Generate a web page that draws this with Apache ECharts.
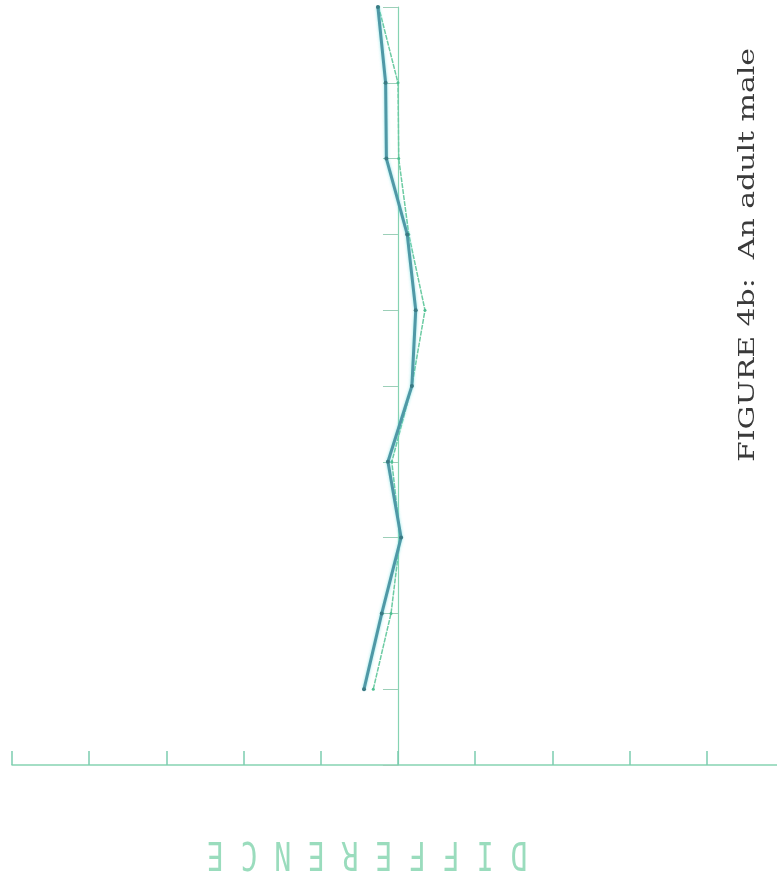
<!DOCTYPE html>
<html>
<head>
<meta charset="utf-8">
<script src="https://cdn.jsdelivr.net/npm/echarts@6/dist/echarts.min.js"></script>
<style>
html,body{margin:0;padding:0;background:#fff;}
#chart{width:777px;height:884px;}
</style>
</head>
<body>
<div id="chart"></div>
<script>
// Rows along the vertical axis (1 = bottom, 10 = top)
var rows = [1, 2, 3, 4, 5, 6, 7, 8, 9, 10];
// Difference values (horizontal axis units = tick spacing)
var darkSeries  = [-0.44, -0.21, 0.04, -0.13, 0.18, 0.23, 0.12, -0.15, -0.16, -0.26];
var lightSeries = [-0.32, -0.09, 0.03, -0.08, 0.18, 0.35, 0.14, 0.01, 0.0, -0.25];
var xTicks = [-5, -4, -3, -2, -1, 0, 1, 2, 3, 4];
var axisTitle = 'D I F F E R E N C E';
var caption = 'FIGURE 4b:  An adult male';

function pairs(vals) {
  return rows.map(function (r, i) { return [vals[i], r]; });
}

var axisColor = '#86d3b2';
var chart = echarts.init(document.getElementById('chart'));
chart.setOption({
  backgroundColor: '#ffffff',
  animation: false,
  grid: { left: 12, right: 0, top: 7, bottom: 119 },
  xAxis: {
    type: 'value',
    min: -5,
    max: 4.91,
    interval: 1,
    axisLine: { show: true, onZero: false, lineStyle: { color: axisColor, width: 1.5 } },
    axisTick: { show: true, inside: true, length: 14, customValues: xTicks, lineStyle: { color: '#7ccdb0', width: 1.5 } },
    axisLabel: { show: false },
    splitLine: { show: false }
  },
  yAxis: {
    type: 'value',
    min: 0,
    max: 10,
    interval: 1,
    axisLine: { show: true, onZero: true, lineStyle: { color: axisColor, width: 1.2 } },
    axisTick: { show: true, inside: false, length: 15, lineStyle: { color: '#9ccfb8', width: 1 } },
    axisLabel: { show: false },
    splitLine: { show: false }
  },
  series: [
    {
      type: 'line',
      data: pairs(lightSeries),
      symbol: 'circle',
      symbolSize: 3,
      itemStyle: { color: '#4fbf92' },
      lineStyle: { color: '#6ccba3', width: 1.5, type: [5, 1] },
      z: 2
    },
    {
      type: 'line',
      data: pairs(darkSeries),
      symbol: 'circle',
      symbolSize: 4,
      itemStyle: { color: '#3a7a84' },
      lineStyle: { color: '#4f98a6', width: 3, shadowColor: 'rgba(90,220,220,0.7)', shadowBlur: 3 },
      z: 3
    }
  ],
  graphic: [
    {
      type: 'text',
      x: 367, y: 852,
      rotation: Math.PI,
      scaleY: 1.38,
      style: {
        text: axisTitle,
        font: '28px "DejaVu Sans Mono"',
        fill: '#9adcbd',
        align: 'center',
        verticalAlign: 'middle'
      }
    },
    {
      type: 'text',
      x: 748, y: 255,
      rotation: Math.PI / 2,
      scaleX: 1.36,
      style: {
        text: caption,
        font: '22px "DejaVu Serif"',
        fill: '#3a3a3a',
        align: 'center',
        verticalAlign: 'middle'
      }
    }
  ]
});
</script>
</body>
</html>
